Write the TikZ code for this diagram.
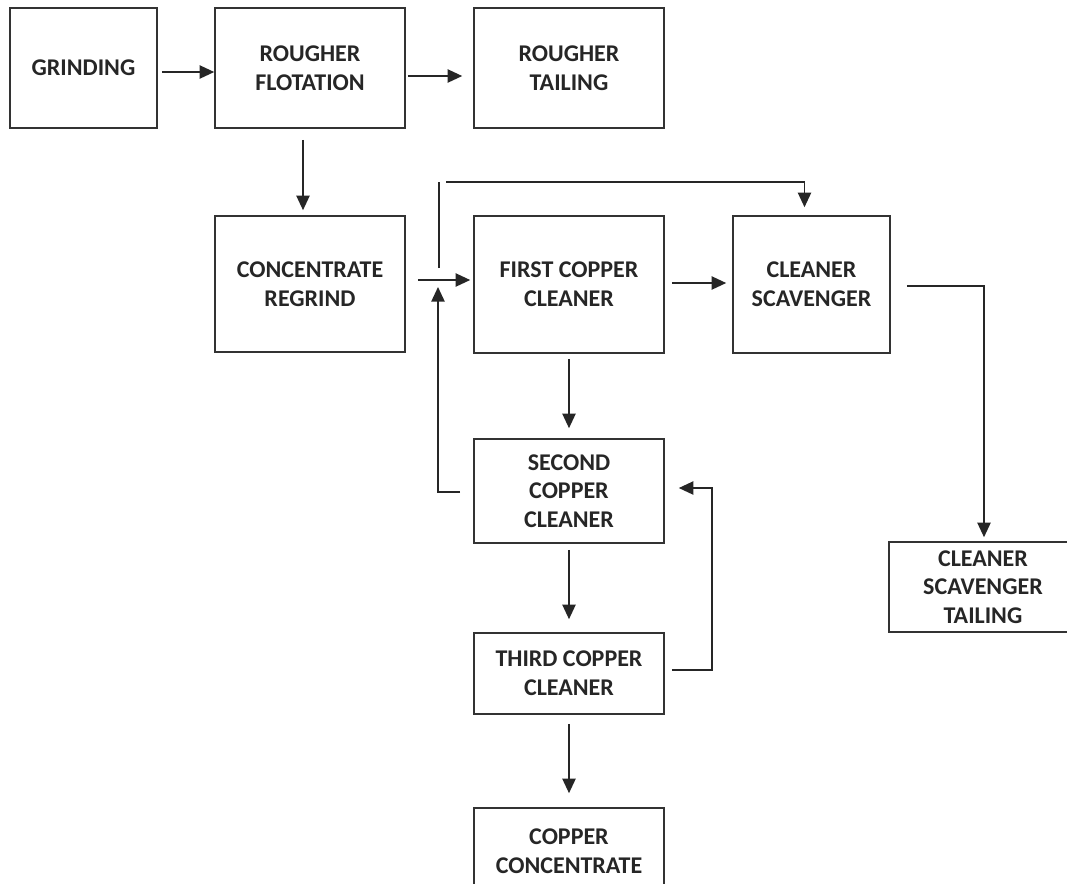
\documentclass[tikz,border=0pt]{standalone}
\usepackage{fontspec}
\setmainfont{Carlito}
\usetikzlibrary{arrows.meta,calc}

\begin{document}
\begin{tikzpicture}[
    x=0.75pt, y=-0.75pt,
    box/.style={rectangle, draw=black!80, line width=1.2pt, minimum width=142.5pt, minimum height=90pt, align=center, inner sep=2pt, text=black!85, font=\fontsize{18}{21.5}\selectfont\bfseries},
    arrow/.style={-{Triangle[length=11pt, width=10pt]}, line width=1.2pt, draw=black!85},
    pipe/.style={line width=1.2pt, draw=black!85}
]
    \clip (0,0) rectangle (1067,883);

    \node[box, minimum width=110.25pt] (grind) at (83.5,68) {GRINDING};
    \node[box] (rougher) at (310,68) {ROUGHER\\FLOTATION};
    \node[box] (rtail) at (569,68) {ROUGHER\\TAILING};

    \node[box, minimum height=102pt] (regrind) at (310,284) {CONCENTRATE\\REGRIND};
    \node[box, minimum height=102.75pt] (first) at (569,284.5) {FIRST COPPER\\CLEANER};
    \node[box, minimum width=117.75pt, minimum height=102.75pt] (scav) at (811.5,284.5) {CLEANER\\SCAVENGER};

    \node[box, minimum height=78pt] (second) at (569,491) {SECOND\\COPPER\\CLEANER};
    \node[box, minimum height=60.75pt] (third) at (569,673.5) {THIRD COPPER\\CLEANER};
    \node[box, minimum height=64.5pt] (conc) at (569,851) {COPPER\\CONCENTRATE};

    \node[box, minimum width=141pt, minimum height=67.5pt] (stail) at (983,587) {CLEANER\\SCAVENGER\\TAILING};

    \coordinate (junc) at (438,280);

    \draw[arrow] ($(grind.east)+(4,4)$) -- ($(rougher.west)+(0,4)$);
    \draw[arrow] ($(rougher.east)+(2,8)$) -- ($(rtail.west)+(-11,8)$);
    \draw[arrow] ($(rougher.south)+(-7,11)$) -- ($(regrind.north)+(-7,-5)$);
    \draw[arrow] ($(regrind.east)+(12,-4)$) -- ($(first.west)+(-3,-4.5)$);
    \draw[arrow] ($(first.east)+(7,-1.5)$) -- ($(scav.west)+(-6,-1.5)$);
    \draw[arrow] ($(first.south)+(0,5)$) -- ($(second.north)+(0,-10)$);
    \draw[arrow] ($(second.south)+(0,6)$) -- ($(third.north)+(0,-13)$);
    \draw[arrow] ($(third.south)+(0,9)$) -- ($(conc.north)+(0,-14)$);

    \draw[arrow] ($(scav.east)+(16,1.5)$) -| ($(stail.north)+(1,-4)$);
    \draw[arrow] ($(third.east)+(7,-3.5)$) -- ++(40,0) |- ($(second.east)+(14,-3)$);
    \draw[arrow] ($(second.west)+(-13,1)$) -| ($(junc)+(0,7)$);

    \draw[pipe] ($(junc)+(1,-12)$) -- ($(junc)+(1,-98)$);
    \draw[arrow] ($(junc)+(8,-98)$) -| ($(scav.north)+(-7,-8)$);
\end{tikzpicture}
\end{document}
